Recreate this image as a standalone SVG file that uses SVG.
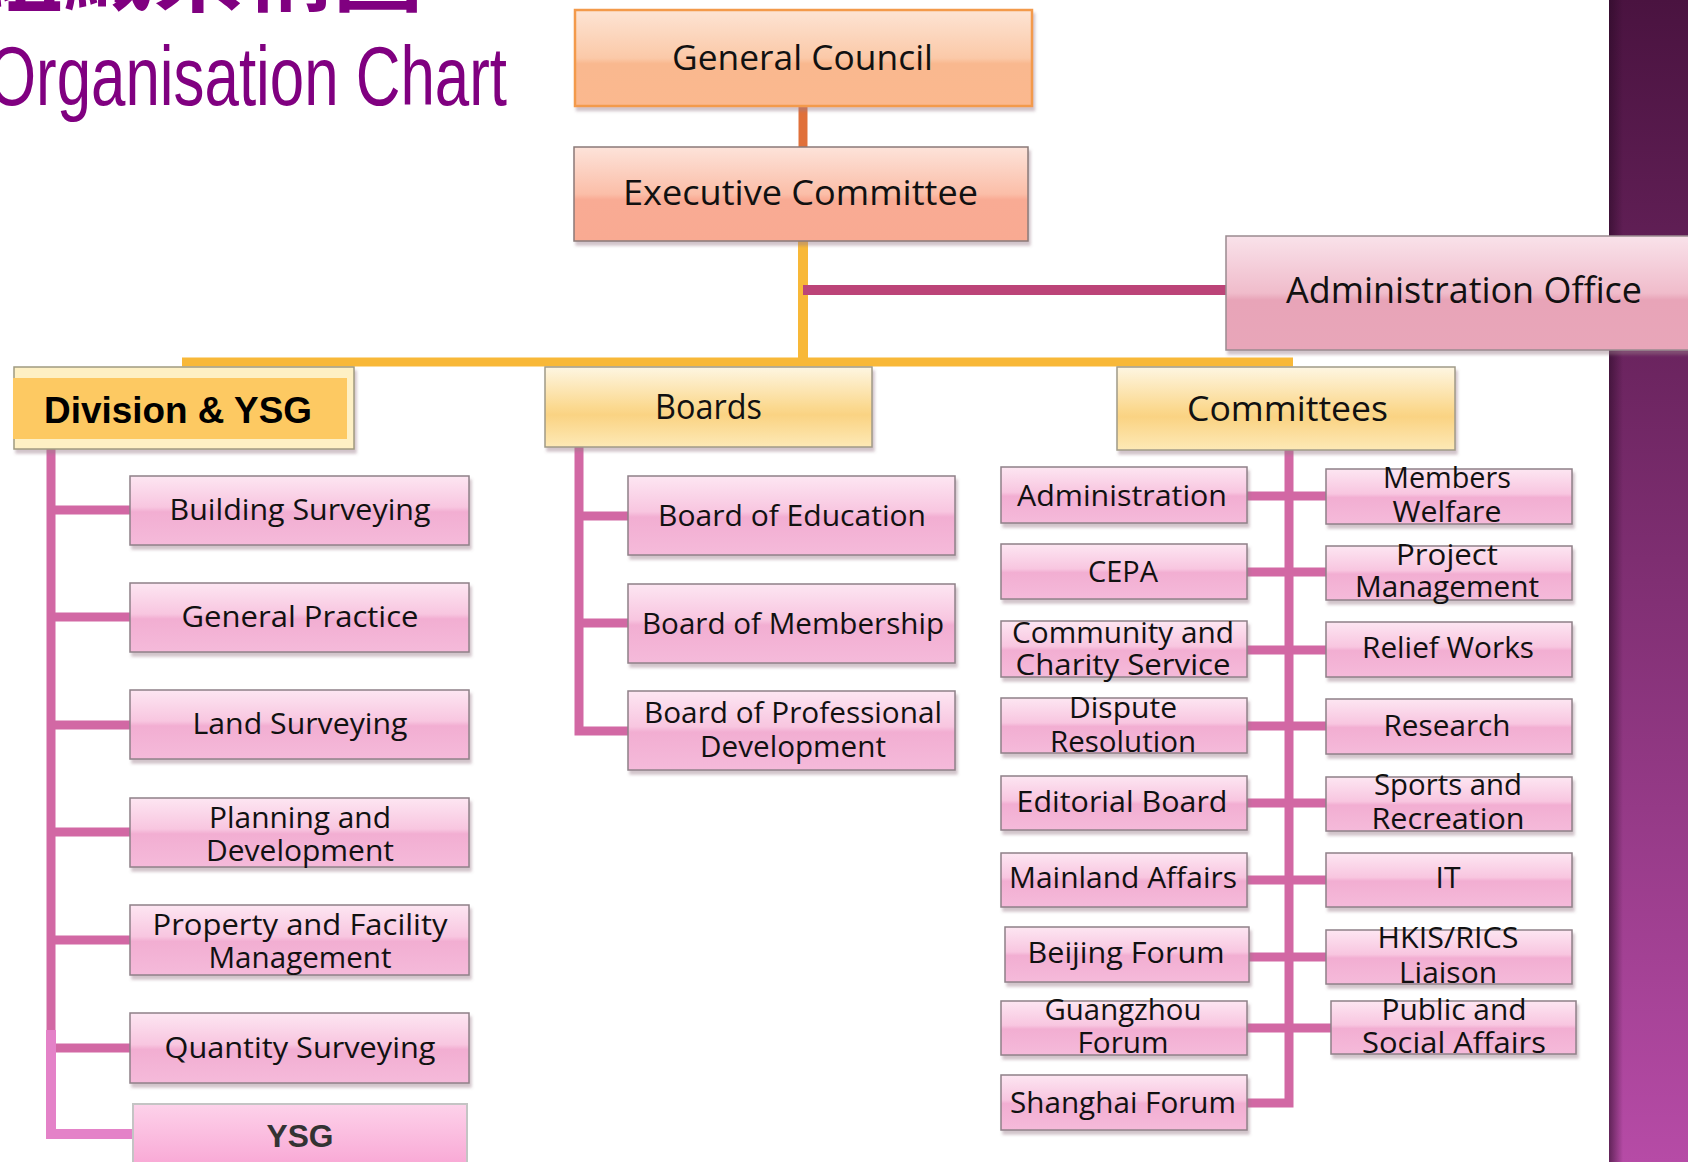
<svg xmlns="http://www.w3.org/2000/svg" width="1688" height="1162" viewBox="0 0 1688 1162">
<defs>
<linearGradient id="gPink" x1="0" y1="0" x2="0" y2="1"><stop offset="0" stop-color="#fde6f2"/><stop offset="0.45" stop-color="#f8c6e0"/><stop offset="0.52" stop-color="#f2aed2"/><stop offset="1" stop-color="#f5bada"/></linearGradient>
<linearGradient id="gOrange" x1="0" y1="0" x2="0" y2="1"><stop offset="0" stop-color="#fde4d4"/><stop offset="0.5" stop-color="#fbc9a8"/><stop offset="0.56" stop-color="#f9b88f"/><stop offset="1" stop-color="#fbb88e"/></linearGradient>
<linearGradient id="gSalmon" x1="0" y1="0" x2="0" y2="1"><stop offset="0" stop-color="#fde3da"/><stop offset="0.5" stop-color="#fbbea8"/><stop offset="0.56" stop-color="#f9ab94"/><stop offset="1" stop-color="#f9aa92"/></linearGradient>
<linearGradient id="gAdmin" x1="0" y1="0" x2="0" y2="1"><stop offset="0" stop-color="#f9e2ea"/><stop offset="0.5" stop-color="#f0bccb"/><stop offset="0.56" stop-color="#e8a4b8"/><stop offset="1" stop-color="#e8a6b9"/></linearGradient>
<linearGradient id="gGold" x1="0" y1="0" x2="0" y2="1"><stop offset="0" stop-color="#fef6e2"/><stop offset="0.5" stop-color="#fbd990"/><stop offset="0.6" stop-color="#fad383"/><stop offset="1" stop-color="#fde9b6"/></linearGradient>
<linearGradient id="gYSG" x1="0" y1="0" x2="0" y2="1"><stop offset="0" stop-color="#fdd2ea"/><stop offset="1" stop-color="#f8a2d2"/></linearGradient>
<linearGradient id="gBand" x1="0" y1="0" x2="0" y2="1"><stop offset="0" stop-color="#4a1340"/><stop offset="1" stop-color="#b64ba6"/></linearGradient>
<linearGradient id="gBandEdge" x1="0" y1="0" x2="1" y2="0"><stop offset="0" stop-color="#2a0a26" stop-opacity="0.6"/><stop offset="1" stop-color="#2a0a26" stop-opacity="0"/></linearGradient>
<filter id="sh" x="-5%" y="-10%" width="110%" height="130%"><feDropShadow dx="2" dy="4" stdDeviation="1.5" flood-color="#9a7a8a" flood-opacity="0.45"/></filter>
<style>
.lbl{font-family:"Open Sans","Noto Sans",sans-serif;fill:#111;text-anchor:middle;}
.s30{font-size:29px;}
.bold{font-family:"Liberation Sans",Arial,sans-serif;font-weight:bold;}
.pink{fill:url(#gPink);stroke:#8f8088;stroke-width:1.5;filter:url(#sh);}
.gold{fill:url(#gGold);stroke:#a09a88;stroke-width:1.5;filter:url(#sh);}
.con{stroke:#d268a4;stroke-width:9;fill:none;}
</style>
</defs>
<rect width="1688" height="1162" fill="#ffffff"/>
<rect x="1609" y="0" width="79" height="1162" fill="url(#gBand)"/>
<rect x="1609" y="0" width="14" height="1162" fill="url(#gBandEdge)"/>

<g id="title">
<text x="-27" y="4" font-family="'Noto Sans CJK TC','Noto Sans CJK SC',sans-serif" font-weight="bold" font-size="90" fill="#800080">組織架構圖</text>
<text x="-12" y="105" font-family="'Liberation Sans',Arial,sans-serif" font-size="84" fill="#800080" textLength="519" lengthAdjust="spacingAndGlyphs">Organisation Chart</text>
</g>

<g id="connectors">
<line x1="803" y1="106" x2="803" y2="147" stroke="#e0703a" stroke-width="9"/>
<line x1="803" y1="241" x2="803" y2="362" stroke="#f8b838" stroke-width="10"/>
<line x1="182" y1="362" x2="1293" y2="362" stroke="#f8b838" stroke-width="9"/>
<line x1="803" y1="290" x2="1226" y2="290" stroke="#bc4478" stroke-width="10"/>
<path class="con" d="M51 449 V1030 M51 510 H130 M51 617 H130 M51 725 H130 M51 832 H130 M51 940 H130 M51 1048 H130"/>
<path d="M51 1030 V1134 H133" stroke="#e482c8" stroke-width="10" fill="none"/>
<path class="con" d="M579 447 V731 H628 M579 516 H628 M579 623 H628"/>
<path class="con" d="M1289 450 V1103 H1247 M1247 496 H1326 M1247 572 H1326 M1247 650 H1326 M1247 726 H1326 M1247 803 H1326 M1247 880 H1326 M1249 957 H1326 M1247 1028 H1331"/>
</g>

<g id="general-council"><rect x="575" y="10" width="457" height="96" fill="url(#gOrange)" stroke="#f39a4c" stroke-width="2.5" filter="url(#sh)"/><text class="lbl" x="802.5" y="70" font-size="35" textLength="261" lengthAdjust="spacingAndGlyphs">General Council</text></g>
<g id="executive-committee"><rect x="574" y="147" width="454" height="94" fill="url(#gSalmon)" stroke="#8a7a78" stroke-width="1.5" filter="url(#sh)"/><text class="lbl" x="800.5" y="205" font-size="34" textLength="355" lengthAdjust="spacingAndGlyphs">Executive Committee</text></g>
<g id="administration-office"><rect x="1226" y="236" width="470" height="114" fill="url(#gAdmin)" stroke="#9a8a90" stroke-width="1.5" filter="url(#sh)"/><text class="lbl" x="1464" y="303" font-size="36" textLength="356" lengthAdjust="spacingAndGlyphs">Administration Office</text></g>

<g id="division-ysg"><rect x="14" y="367" width="340" height="82" fill="#fef0c4" stroke="#a09a80" stroke-width="1.5" filter="url(#sh)"/><rect x="13" y="378" width="334" height="61" fill="#fdc962"/><text class="bold" x="44" y="423" font-size="37" fill="#000" textLength="268" lengthAdjust="spacingAndGlyphs">Division &amp; YSG</text></g>
<g id="boards"><rect class="gold" x="545" y="367" width="327" height="80"/><text class="lbl" x="708.5" y="419" font-size="34" textLength="107" lengthAdjust="spacingAndGlyphs">Boards</text></g>
<g id="committees"><rect class="gold" x="1117" y="367" width="338" height="83"/><text class="lbl" x="1287.5" y="421" font-size="34" textLength="201" lengthAdjust="spacingAndGlyphs">Committees</text></g>

<g id="building-surveying"><rect class="pink" x="130" y="476" width="339" height="69"/><text class="lbl s30" x="300" y="520" textLength="261" lengthAdjust="spacingAndGlyphs">Building Surveying</text></g>
<g id="general-practice"><rect class="pink" x="130" y="583" width="339" height="69"/><text class="lbl s30" x="300" y="627" textLength="237" lengthAdjust="spacingAndGlyphs">General Practice</text></g>
<g id="land-surveying"><rect class="pink" x="130" y="690" width="339" height="69"/><text class="lbl s30" x="300" y="734" textLength="215" lengthAdjust="spacingAndGlyphs">Land Surveying</text></g>
<g id="planning-development"><rect class="pink" x="130" y="798" width="339" height="69"/><text class="lbl s30" x="300" y="828" textLength="182" lengthAdjust="spacingAndGlyphs">Planning and</text><text class="lbl s30" x="300" y="861" textLength="188" lengthAdjust="spacingAndGlyphs">Development</text></g>
<g id="property-facility"><rect class="pink" x="130" y="905" width="339" height="70"/><text class="lbl s30" x="300" y="935" textLength="295" lengthAdjust="spacingAndGlyphs">Property and Facility</text><text class="lbl s30" x="300" y="968" textLength="183" lengthAdjust="spacingAndGlyphs">Management</text></g>
<g id="quantity-surveying"><rect class="pink" x="130" y="1013" width="339" height="70"/><text class="lbl s30" x="300" y="1058" textLength="271" lengthAdjust="spacingAndGlyphs">Quantity Surveying</text></g>
<g id="ysg"><rect x="133" y="1104" width="334" height="70" fill="url(#gYSG)" stroke="#c4c4c4" stroke-width="2"/><text class="bold" x="300" y="1147" font-size="31" fill="#333" text-anchor="middle" textLength="67" lengthAdjust="spacingAndGlyphs">YSG</text></g>

<g id="board-education"><rect class="pink" x="628" y="476" width="327" height="79"/><text class="lbl s30" x="792" y="526" textLength="268" lengthAdjust="spacingAndGlyphs">Board of Education</text></g>
<g id="board-membership"><rect class="pink" x="628" y="584" width="327" height="79"/><text class="lbl s30" x="793" y="634" textLength="302" lengthAdjust="spacingAndGlyphs">Board of Membership</text></g>
<g id="board-professional"><rect class="pink" x="628" y="691" width="327" height="79"/><text class="lbl s30" x="793" y="723" textLength="298" lengthAdjust="spacingAndGlyphs">Board of Professional</text><text class="lbl s30" x="793" y="757" textLength="186" lengthAdjust="spacingAndGlyphs">Development</text></g>

<g id="c-administration"><rect class="pink" x="1001" y="467" width="246" height="56"/><text class="lbl s30" x="1122" y="506" textLength="210" lengthAdjust="spacingAndGlyphs">Administration</text></g>
<g id="c-cepa"><rect class="pink" x="1001" y="544" width="246" height="55"/><text class="lbl s30" x="1123" y="582" textLength="70" lengthAdjust="spacingAndGlyphs">CEPA</text></g>
<g id="c-community"><rect class="pink" x="1001" y="621" width="246" height="56"/><text class="lbl s30" x="1123" y="643" textLength="222" lengthAdjust="spacingAndGlyphs">Community and</text><text class="lbl s30" x="1123" y="675" textLength="215" lengthAdjust="spacingAndGlyphs">Charity Service</text></g>
<g id="c-dispute"><rect class="pink" x="1001" y="698" width="246" height="55"/><text class="lbl s30" x="1123" y="718" textLength="108" lengthAdjust="spacingAndGlyphs">Dispute</text><text class="lbl s30" x="1123" y="752" textLength="146" lengthAdjust="spacingAndGlyphs">Resolution</text></g>
<g id="c-editorial"><rect class="pink" x="1001" y="776" width="246" height="54"/><text class="lbl s30" x="1122" y="812" textLength="211" lengthAdjust="spacingAndGlyphs">Editorial Board</text></g>
<g id="c-mainland"><rect class="pink" x="1001" y="853" width="246" height="54"/><text class="lbl s30" x="1123" y="888" textLength="228" lengthAdjust="spacingAndGlyphs">Mainland Affairs</text></g>
<g id="c-beijing"><rect class="pink" x="1005" y="927" width="244" height="55"/><text class="lbl s30" x="1126" y="963" textLength="197" lengthAdjust="spacingAndGlyphs">Beijing Forum</text></g>
<g id="c-guangzhou"><rect class="pink" x="1001" y="1001" width="246" height="54"/><text class="lbl s30" x="1123" y="1020" textLength="157" lengthAdjust="spacingAndGlyphs">Guangzhou</text><text class="lbl s30" x="1123" y="1053" textLength="91" lengthAdjust="spacingAndGlyphs">Forum</text></g>
<g id="c-shanghai"><rect class="pink" x="1001" y="1075" width="246" height="55"/><text class="lbl s30" x="1123" y="1113" textLength="226" lengthAdjust="spacingAndGlyphs">Shanghai Forum</text></g>

<g id="c-members-welfare"><rect class="pink" x="1326" y="469" width="246" height="55"/><text class="lbl s30" x="1447" y="488" textLength="128" lengthAdjust="spacingAndGlyphs">Members</text><text class="lbl s30" x="1447" y="522" textLength="109" lengthAdjust="spacingAndGlyphs">Welfare</text></g>
<g id="c-project"><rect class="pink" x="1326" y="546" width="246" height="54"/><text class="lbl s30" x="1447" y="565" textLength="102" lengthAdjust="spacingAndGlyphs">Project</text><text class="lbl s30" x="1447" y="597" textLength="184" lengthAdjust="spacingAndGlyphs">Management</text></g>
<g id="c-relief"><rect class="pink" x="1326" y="622" width="246" height="55"/><text class="lbl s30" x="1448" y="658" textLength="172" lengthAdjust="spacingAndGlyphs">Relief Works</text></g>
<g id="c-research"><rect class="pink" x="1326" y="699" width="246" height="55"/><text class="lbl s30" x="1447" y="736" textLength="127" lengthAdjust="spacingAndGlyphs">Research</text></g>
<g id="c-sports"><rect class="pink" x="1326" y="777" width="246" height="54"/><text class="lbl s30" x="1448" y="795" textLength="148" lengthAdjust="spacingAndGlyphs">Sports and</text><text class="lbl s30" x="1448" y="829" textLength="153" lengthAdjust="spacingAndGlyphs">Recreation</text></g>
<g id="c-it"><rect class="pink" x="1326" y="853" width="246" height="54"/><text class="lbl s30" x="1448" y="888" textLength="25" lengthAdjust="spacingAndGlyphs">IT</text></g>
<g id="c-hkis"><rect class="pink" x="1326" y="930" width="246" height="54"/><text class="lbl s30" x="1448" y="948" textLength="141" lengthAdjust="spacingAndGlyphs">HKIS/RICS</text><text class="lbl s30" x="1448" y="983" textLength="98" lengthAdjust="spacingAndGlyphs">Liaison</text></g>
<g id="c-public"><rect class="pink" x="1331" y="1001" width="245" height="53"/><text class="lbl s30" x="1454" y="1020" textLength="145" lengthAdjust="spacingAndGlyphs">Public and</text><text class="lbl s30" x="1454" y="1053" textLength="184" lengthAdjust="spacingAndGlyphs">Social Affairs</text></g>
</svg>
